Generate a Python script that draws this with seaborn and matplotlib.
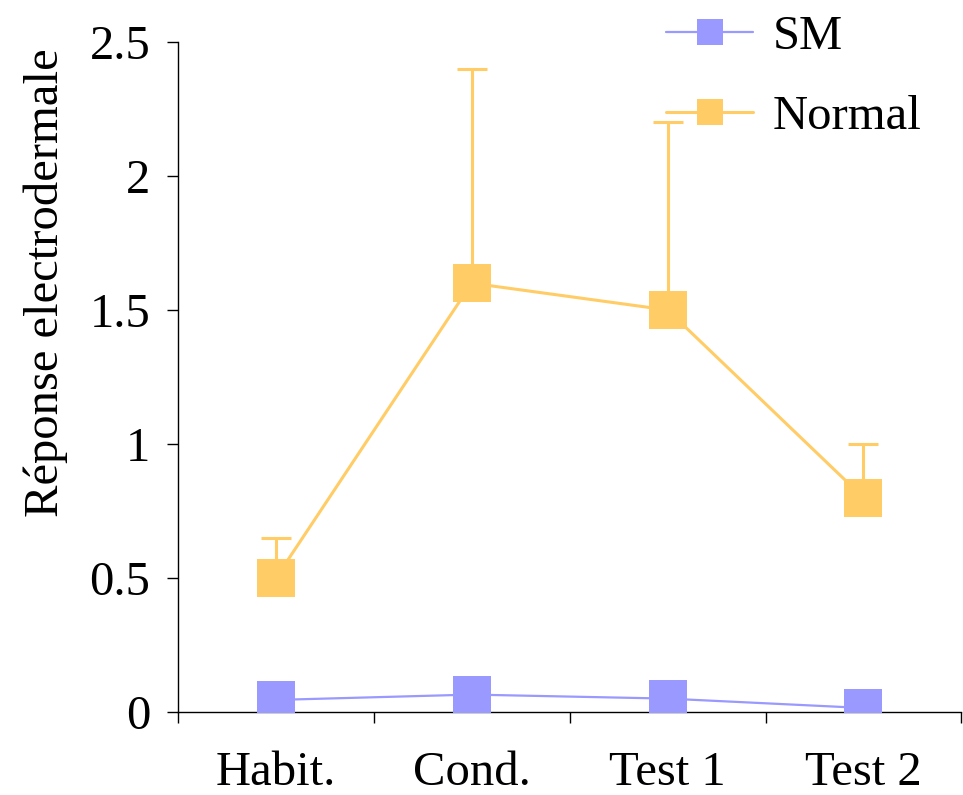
import numpy as np
import pandas as pd
import matplotlib
matplotlib.use("Agg")
import matplotlib.pyplot as plt
from matplotlib.lines import Line2D
import seaborn as sns

# chart data
phases = ["Habit.", "Cond.", "Test 1", "Test 2"]
sm_values = [0.045, 0.065, 0.05, 0.015]
normal_values = [0.5, 1.6, 1.5, 0.8]
normal_err_up = [0.15, 0.8, 0.7, 0.2]
y_ticks = [0, 0.5, 1, 1.5, 2, 2.5]
y_tick_labels = ["0", "0.5", "1", "1.5", "2", "2.5"]

SM_COLOR = "#9999FF"
NORMAL_COLOR = "#FFCC66"

sns.set_theme(style="white")
plt.rcParams["font.family"] = ["Liberation Serif", "DejaVu Serif"]
plt.rcParams["text.color"] = "black"
plt.rcParams["axes.labelcolor"] = "black"
plt.rcParams["xtick.color"] = "black"
plt.rcParams["ytick.color"] = "black"

pos = np.arange(len(phases)) + 0.5
df = pd.DataFrame({
    "pos": np.concatenate([pos, pos]),
    "value": sm_values + normal_values,
    "group": ["SM"] * len(phases) + ["Normal"] * len(phases),
})

fig = plt.figure(figsize=(9.63, 7.95), dpi=100)
ax = fig.add_axes([0.1848, 0.1044, 0.8135, 0.8428])

# error bars (upper only) for the Normal group
ax.errorbar(pos, normal_values, yerr=[np.zeros(len(phases)), normal_err_up],
            fmt="none", ecolor=NORMAL_COLOR, elinewidth=2.2, capsize=11, capthick=2.2, zorder=1)

sns.lineplot(data=df[df.group == "SM"], x="pos", y="value", ax=ax, color=SM_COLOR,
             linewidth=1.6, marker="s", markersize=27, markeredgewidth=0,
             legend=False, zorder=3)
sns.lineplot(data=df[df.group == "Normal"], x="pos", y="value", ax=ax, color=NORMAL_COLOR,
             linewidth=2.2, marker="s", markersize=27, markeredgewidth=0,
             legend=False, zorder=2)

ax.set_xlim(0, len(phases))
ax.set_ylim(0, 2.5)
ax.set_xticks(pos)
ax.set_xticklabels(phases, fontsize=35)
ax.set_xticks(np.arange(len(phases) + 1), minor=True)
ax.set_yticks(y_ticks)
ax.set_yticklabels(y_tick_labels, fontsize=35)
ax.tick_params(axis="x", which="major", length=0, pad=28)
ax.tick_params(axis="x", which="minor", length=8, width=1, direction="out", color="black", bottom=True)
ax.tick_params(axis="y", length=8, width=1, direction="out", color="black", left=True, pad=12)

ax.set_xlabel("")
ax.set_ylabel("Réponse electrodermale", fontsize=35)
ax.yaxis.set_label_coords(-0.14, 0.64)

sns.despine(ax=ax)
for side in ["left", "bottom"]:
    ax.spines[side].set_color("black")
    ax.spines[side].set_linewidth(1)
ax.grid(False)

handles = [
    Line2D([], [], color=SM_COLOR, linewidth=1.6, marker="s", markersize=19, markeredgewidth=0),
    Line2D([], [], color=NORMAL_COLOR, linewidth=2.2, marker="s", markersize=19, markeredgewidth=0),
]
fig.legend(handles, ["SM", "Normal"], loc="upper left", bbox_to_anchor=(661 / 963, 1 - 10 / 795),
           frameon=False, fontsize=35, handlelength=1.8, handletextpad=0.4,
           labelspacing=0.75, borderpad=0.1, borderaxespad=0)

fig.savefig("out.png", dpi=100)
